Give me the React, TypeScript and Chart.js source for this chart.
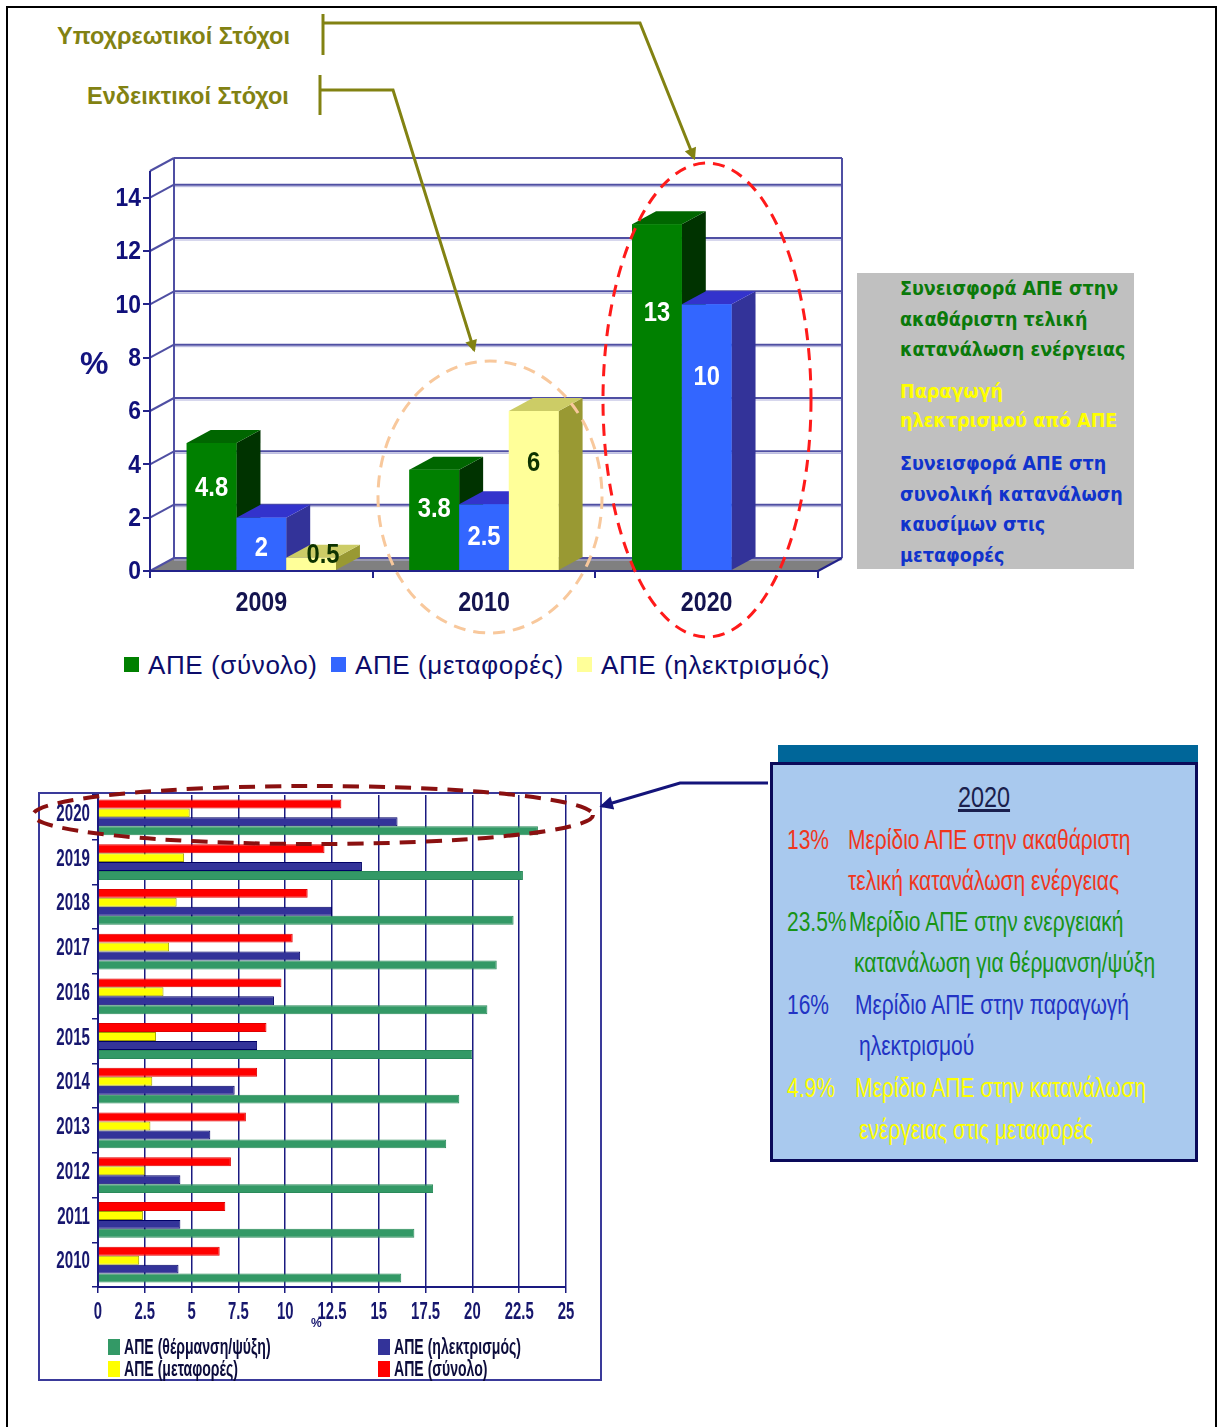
import React, { useEffect, useRef } from 'react';
import { Chart, registerables } from 'chart.js';
Chart.register(...registerables);

// ---------------- data: top (3D) chart ----------------
const topYears = ['2009', '2010', '2020'];
const topSeriesNames = ['ΑΠΕ (σύνολο)', 'ΑΠΕ (μεταφορές)', 'ΑΠΕ (ηλεκτρισμός)'];
const topTotal = [4.8, 3.8, 13];
const topTransport = [2, 2.5, 10];
const topElectricity = [0.5, 6, null];

// ---------------- data: bottom (horizontal) chart ----------------
const bottomYears = ['2020', '2019', '2018', '2017', '2016', '2015', '2014', '2013', '2012', '2011', '2010'];
const bottomSeriesNames = ['ΑΠΕ (σύνολο)', 'ΑΠΕ (μεταφορές)', 'ΑΠΕ (ηλεκτρισμός)', 'ΑΠΕ (θέρμανση/ψύξη)'];
const bottomTotal = [13.0, 12.1, 11.2, 10.4, 9.8, 9.0, 8.5, 7.9, 7.1, 6.8, 6.5];
const bottomTransport = [4.9, 4.6, 4.2, 3.8, 3.5, 3.1, 2.9, 2.8, 2.5, 2.4, 2.2];
const bottomElectricity = [16.0, 14.1, 12.5, 10.8, 9.4, 8.5, 7.3, 6.0, 4.4, 4.4, 4.3];
const bottomHeating = [23.5, 22.7, 22.2, 21.3, 20.8, 20.0, 19.3, 18.6, 17.9, 16.9, 16.2];

// ---------------- styles ----------------
const SANS = '"Liberation Sans", Arial, sans-serif';
const VERD = '"DejaVu Sans Condensed", "DejaVu Sans", Verdana, sans-serif';

const DX = 24;
const DY = -13;
const TOP_FRONT = ['#008000', '#3366ff', '#ffff99'];
const TOP_SIDE = ['#003300', '#333399', '#999933'];
const TOP_CAP = ['#006600', '#3333cc', '#cccc66'];
const TOP_TEXT = ['#ffffff', '#ffffff', '#0d3300'];
const WALL = '#4f4fa3';

const BOT_FILL = ['#ff0000', '#ffff00', '#333399', '#339966'];
const BOT_BORDER = ['#e00000', '#a0a000', '#000066', '#2a8a5a'];
const BOT_NAVY = '#1a1a80';

function poly(ctx: CanvasRenderingContext2D, pts: number[][], fill: string) {
  ctx.beginPath();
  ctx.moveTo(pts[0][0], pts[0][1]);
  for (let i = 1; i < pts.length; i++) ctx.lineTo(pts[i][0], pts[i][1]);
  ctx.closePath();
  ctx.fillStyle = fill;
  ctx.fill();
}
function seg(ctx: CanvasRenderingContext2D, x1: number, y1: number, x2: number, y2: number) {
  ctx.beginPath();
  ctx.moveTo(x1, y1);
  ctx.lineTo(x2, y2);
  ctx.stroke();
}
function sText(ctx: CanvasRenderingContext2D, text: string, x: number, y: number, sx: number, align: CanvasTextAlign) {
  ctx.save();
  ctx.translate(x, y);
  ctx.scale(sx, 1);
  ctx.textAlign = align;
  ctx.fillText(text, 0, 0);
  ctx.restore();
}

const threeDPlugin = {
  id: 'threeD',
  beforeDatasetsDraw(chart: any) {
    const { ctx, chartArea: a } = chart;
    const y = chart.scales.y;
    ctx.save();
    poly(ctx, [[a.left, a.bottom], [a.right, a.bottom], [a.right + DX, a.bottom + DY], [a.left + DX, a.bottom + DY]], '#808080');
    y.ticks.forEach((t: any) => {
      const py = y.getPixelForValue(t.value);
      ctx.strokeStyle = '#b0b0dc';
      ctx.lineWidth = 1;
      seg(ctx, a.left + DX, py + DY + 2, a.right + DX, py + DY + 2);
      ctx.strokeStyle = WALL;
      ctx.lineWidth = 2;
      seg(ctx, a.left + DX, py + DY, a.right + DX, py + DY);
      seg(ctx, a.left, py, a.left + DX, py + DY);
    });
    ctx.strokeStyle = WALL;
    ctx.lineWidth = 2;
    seg(ctx, a.left + DX, a.top + DY, a.right + DX, a.top + DY);
    seg(ctx, a.left + DX, a.top + DY, a.left + DX, a.bottom + DY);
    seg(ctx, a.right + DX, a.top + DY, a.right + DX, a.bottom + DY);
    seg(ctx, a.left, a.top, a.left + DX, a.top + DY);
    ctx.strokeStyle = '#23238a';
    seg(ctx, a.left, a.top, a.left, a.bottom);
    seg(ctx, a.left, a.bottom, a.right, a.bottom);
    seg(ctx, a.right, a.bottom, a.right + DX, a.bottom + DY);
    ctx.restore();
  },
  afterDatasetsDraw(chart: any) {
    const ctx = chart.ctx;
    const items: any[] = [];
    chart.data.datasets.forEach((ds: any, di: number) => {
      const meta = chart.getDatasetMeta(di);
      meta.data.forEach((el: any, i: number) => {
        const v = ds.data[i];
        if (v === null || v === undefined) return;
        const p = el.getProps(['x', 'y', 'base', 'width'], true);
        items.push({ ...p, di, v });
      });
    });
    items.sort((a, b) => a.x - b.x);
    ctx.save();
    for (const it of items) {
      const l = it.x - it.width / 2;
      const r = it.x + it.width / 2;
      const t = it.y;
      const b = it.base;
      poly(ctx, [[r, t], [r + DX, t + DY], [r + DX, b + DY], [r, b]], TOP_SIDE[it.di]);
      poly(ctx, [[l, t], [r, t], [r + DX, t + DY], [l + DX, t + DY]], TOP_CAP[it.di]);
      ctx.fillStyle = TOP_FRONT[it.di];
      ctx.fillRect(l, t, r - l, b - t);
    }
    ctx.font = `bold 28px ${SANS}`;
    ctx.textBaseline = 'middle';
    for (const it of items) {
      const h = it.base - it.y;
      const small = h < 25;
      const off = small ? -2 : Math.min(h / 2 + 4, 20 + 0.2 * h);
      ctx.fillStyle = TOP_TEXT[it.di];
      sText(ctx, String(it.v), it.x + (small ? DX / 2 : 0), it.y + off, 0.85, 'center');
    }
    ctx.restore();
  },
  afterDraw(chart: any) {
    const { ctx } = chart;
    const x = chart.scales.x;
    const y = chart.scales.y;
    ctx.save();
    ctx.textBaseline = 'middle';
    ctx.font = `bold 26px ${SANS}`;
    ctx.fillStyle = '#10107a';
    y.ticks.forEach((t: any, i: number) => {
      sText(ctx, String(t.label), y.right - 9, y.getPixelForTick(i) + 1, 0.88, 'right');
    });
    ctx.font = `bold 27px ${SANS}`;
    ctx.fillStyle = '#141450';
    x.ticks.forEach((t: any, i: number) => {
      sText(ctx, String(t.label), x.getPixelForTick(i), x.top + 33, 0.86, 'center');
    });
    ctx.restore();
  },
};

const squeezeLabels = {
  id: 'squeezeLabels',
  afterDraw(chart: any) {
    const { ctx } = chart;
    const x = chart.scales.x;
    const y = chart.scales.y;
    ctx.save();
    ctx.fillStyle = '#17176e';
    ctx.font = `bold 24px ${SANS}`;
    ctx.textBaseline = 'middle';
    y.ticks.forEach((t: any, i: number) => {
      sText(ctx, String(t.label), y.right - 8, y.getPixelForTick(i) - 3, 0.63, 'right');
    });
    x.ticks.forEach((t: any, i: number) => {
      sText(ctx, String(t.label), x.getPixelForTick(i), x.top + 25, 0.62, 'center');
    });
    ctx.restore();
  },
};

function TopChart() {
  const ref = useRef<HTMLCanvasElement>(null);
  useEffect(() => {
    const chart = new Chart(ref.current as HTMLCanvasElement, {
      type: 'bar',
      data: {
        labels: topYears,
        datasets: [
          { label: topSeriesNames[0], data: topTotal, backgroundColor: TOP_FRONT[0] },
          { label: topSeriesNames[1], data: topTransport, backgroundColor: TOP_FRONT[1] },
          { label: topSeriesNames[2], data: topElectricity, backgroundColor: TOP_FRONT[2] },
        ],
      },
      options: {
        animation: false,
        responsive: false,
        maintainAspectRatio: false,
        layout: { padding: { left: 0, right: 62, top: 31, bottom: 0 } },
        plugins: { legend: { display: false }, tooltip: { enabled: false } },
        datasets: { bar: { categoryPercentage: 0.67, barPercentage: 1 } },
        scales: {
          x: {
            afterFit: (s: any) => { s.height = 59; },
            grid: { color: 'rgba(0,0,0,0)', tickColor: '#23238a', tickLength: 7, lineWidth: 2, offset: true },
            border: { display: false },
            ticks: { display: false },
          },
          y: {
            min: 0,
            max: 15,
            afterFit: (s: any) => { s.width = 90; },
            afterBuildTicks: (s: any) => { s.ticks = s.ticks.filter((t: any) => t.value % 2 === 0); },
            grid: { color: 'rgba(0,0,0,0)', tickColor: '#23238a', tickLength: 7, lineWidth: 2 },
            border: { display: false },
            ticks: { display: false, stepSize: 2, includeBounds: false },
          },
        },
      } as any,
      plugins: [threeDPlugin],
    });
    return () => chart.destroy();
  }, []);
  return <canvas ref={ref} width={820} height={490} style={{ position: 'absolute', left: 60, top: 140, width: 820, height: 490 }} />;
}

function BottomChart() {
  const ref = useRef<HTMLCanvasElement>(null);
  useEffect(() => {
    const series = [bottomTotal, bottomTransport, bottomElectricity, bottomHeating];
    const chart = new Chart(ref.current as HTMLCanvasElement, {
      type: 'bar',
      data: {
        labels: bottomYears,
        datasets: series.map((d, i) => ({
          label: bottomSeriesNames[i],
          data: d,
          backgroundColor: BOT_FILL[i],
          borderColor: BOT_BORDER[i],
          borderWidth: 1,
        })),
      },
      options: {
        indexAxis: 'y',
        animation: false,
        responsive: false,
        maintainAspectRatio: false,
        layout: { padding: { left: 0, right: 34, top: 1, bottom: 0 } },
        plugins: { legend: { display: false }, tooltip: { enabled: false } },
        datasets: { bar: { categoryPercentage: 0.8, barPercentage: 1 } },
        scales: {
          x: {
            min: 0,
            max: 25,
            afterFit: (s: any) => { s.height = 92; },
            grid: { color: BOT_NAVY, lineWidth: 1.5, tickColor: BOT_NAVY, tickLength: 6 },
            border: { color: BOT_NAVY, width: 2 },
            ticks: { display: false, stepSize: 2.5 },
          },
          y: {
            afterFit: (s: any) => { s.width = 58; },
            grid: { color: 'rgba(0,0,0,0)', tickColor: BOT_NAVY, tickLength: 6, offset: true, lineWidth: 1.5 },
            border: { color: BOT_NAVY, width: 2 },
            ticks: { display: false },
          },
        },
      } as any,
      plugins: [squeezeLabels],
    });
    return () => chart.destroy();
  }, []);
  return <canvas ref={ref} width={560} height={585} style={{ position: 'absolute', left: 40, top: 794, width: 560, height: 585 }} />;
}

function Txt(props: any) {
  const { x, y, size, color, weight = 'normal', family = SANS, sx = 1, align = 'left', underline = false, ls = 0, children } = props;
  const tx = align === 'center' ? 'translateX(-50%) ' : align === 'right' ? 'translateX(-100%) ' : '';
  const origin = align === 'center' ? 'center center' : align === 'right' ? 'right center' : 'left center';
  return (
    <div
      style={{
        position: 'absolute',
        left: x,
        top: y,
        fontSize: size,
        color,
        fontWeight: weight,
        fontFamily: family,
        whiteSpace: 'nowrap',
        lineHeight: 1,
        letterSpacing: ls,
        transform: `${tx}translateY(-50%) scaleX(${sx})`,
        transformOrigin: origin,
        textDecoration: underline ? 'underline' : 'none',
      }}
    >
      {children}
    </div>
  );
}

function Box({ x, y, w, h, bg, border }: any) {
  return <div style={{ position: 'absolute', left: x, top: y, width: w, height: h, background: bg, border: border || 'none', boxSizing: 'border-box' }} />;
}

export default function App() {
  const topLegendX = [124, 331, 577];
  const botLegend = [
    { i: 3, x: 108, y: 1347 },
    { i: 2, x: 378, y: 1347 },
    { i: 1, x: 108, y: 1369 },
    { i: 0, x: 378, y: 1369 },
  ];
  const olive = '#828212';
  const boxSx = 0.75;
  const boxSize = 28;
  return (
    <div style={{ position: 'absolute', left: 0, top: 0, width: 1218, height: 1427, background: '#fff', overflow: 'hidden', fontFamily: SANS }}>
      {/* annotation labels */}
      <Txt x={57} y={37} size={23.5} weight="bold" color={olive}>Υποχρεωτικοί Στόχοι</Txt>
      <Txt x={87} y={97} size={23.5} weight="bold" color={olive}>Ενδεικτικοί Στόχοι</Txt>

      {/* top chart */}
      <TopChart />
      <Txt x={80} y={363} size={32} weight="bold" color="#141480">%</Txt>

      {/* top legend */}
      {topSeriesNames.map((n, i) => (
        <React.Fragment key={n}>
          <Box x={topLegendX[i]} y={657} w={15} h={15} bg={TOP_FRONT[i]} />
          <Txt x={topLegendX[i] + 24} y={665} size={26} ls={0.6} color="#0c0c6a">{n}</Txt>
        </React.Fragment>
      ))}

      {/* grey explanatory box */}
      <Box x={857} y={273} w={277} h={296} bg="#c0c0c0" />
      <Txt x={900} y={289} size={19.5} weight="bold" family={VERD} color="#0a7a0a">Συνεισφορά ΑΠΕ στην</Txt>
      <Txt x={900} y={320} size={19.5} weight="bold" family={VERD} color="#0a7a0a">ακαθάριστη τελική</Txt>
      <Txt x={900} y={350} size={19.5} weight="bold" family={VERD} color="#0a7a0a">κατανάλωση ενέργειας</Txt>
      <Txt x={900} y={392} size={19.5} weight="bold" family={VERD} color="#ffff00">Παραγωγή</Txt>
      <Txt x={900} y={421} size={19.5} weight="bold" family={VERD} color="#ffff00">ηλεκτρισμού από ΑΠΕ</Txt>
      <Txt x={900} y={464} size={19.5} weight="bold" family={VERD} color="#1133cc">Συνεισφορά ΑΠΕ στη</Txt>
      <Txt x={900} y={495} size={19.5} weight="bold" family={VERD} color="#1133cc">συνολική κατανάλωση</Txt>
      <Txt x={900} y={525} size={19.5} weight="bold" family={VERD} color="#1133cc">καυσίμων στις</Txt>
      <Txt x={900} y={556} size={19.5} weight="bold" family={VERD} color="#1133cc">μεταφορές</Txt>

      {/* bottom chart */}
      <Box x={38} y={792} w={564} h={589} bg="transparent" border="2px solid #3a3a9a" />
      <BottomChart />
      <Txt x={311} y={1323} size={12} weight="bold" color="#17176e">%</Txt>
      {botLegend.map((it) => (
        <React.Fragment key={it.i}>
          <Box x={it.x} y={it.y - 8} w={12} h={16} bg={BOT_FILL[it.i]} />
          <Txt x={it.x + 16} y={it.y} size={22} weight="bold" sx={0.64} color="#0c0c3c">{bottomSeriesNames[it.i]}</Txt>
        </React.Fragment>
      ))}

      {/* 2020 targets box */}
      <Box x={778} y={745} w={420} h={17} bg="#006699" />
      <Box x={770} y={762} w={428} h={400} bg="#a9c9ee" border="3px solid #0a0a5a" />
      <Txt x={984} y={797} size={30} sx={0.78} color="#1a1f4d" align="center" underline>2020</Txt>
      <Txt x={787} y={840} size={boxSize} sx={boxSx} color="#f0361c">13%</Txt>
      <Txt x={848} y={840} size={boxSize} sx={boxSx} color="#f0361c">Μερίδιο ΑΠΕ στην ακαθάριστη</Txt>
      <Txt x={848} y={881} size={boxSize} sx={boxSx} color="#f0361c">τελική κατανάλωση ενέργειας</Txt>
      <Txt x={787} y={922} size={boxSize} sx={boxSx} color="#179417">23.5%</Txt>
      <Txt x={849} y={922} size={boxSize} sx={boxSx} color="#179417">Μερίδιο ΑΠΕ στην ενεργειακή</Txt>
      <Txt x={854} y={963} size={boxSize} sx={boxSx} color="#179417">κατανάλωση για θέρμανση/ψύξη</Txt>
      <Txt x={787} y={1005} size={boxSize} sx={boxSx} color="#2233c4">16%</Txt>
      <Txt x={855} y={1005} size={boxSize} sx={boxSx} color="#2233c4">Μερίδιο ΑΠΕ στην παραγωγή</Txt>
      <Txt x={859} y={1046} size={boxSize} sx={boxSx} color="#2233c4">ηλεκτρισμού</Txt>
      <Txt x={787} y={1088} size={boxSize} sx={boxSx} color="#ffff00">4.9%</Txt>
      <Txt x={855} y={1088} size={boxSize} sx={boxSx} color="#ffff00">Μερίδιο ΑΠΕ στην κατανάλωση</Txt>
      <Txt x={859} y={1130} size={boxSize} sx={boxSx} color="#ffff00">ενέργειας στις μεταφορές</Txt>

      {/* overlay: frame, arrows, ellipses */}
      <svg width={1218} height={1427} style={{ position: 'absolute', left: 0, top: 0, pointerEvents: 'none' }}>
        <defs>
          <marker id="ah-olive" viewBox="0 0 10 10" refX="8" refY="5" markerWidth="4.5" markerHeight="4" orient="auto">
            <path d="M0,0 L10,5 L0,10 z" fill={olive} />
          </marker>
          <marker id="ah-navy" viewBox="0 0 10 10" refX="8" refY="5" markerWidth="5" markerHeight="4.5" orient="auto">
            <path d="M0,0 L10,5 L0,10 z" fill="#14147a" />
          </marker>
        </defs>
        <rect x={7} y={7} width={1209} height={1440} fill="none" stroke="#000" strokeWidth={2} />
        <line x1={323} y1={14} x2={323} y2={55} stroke={olive} strokeWidth={3} />
        <polyline points="323,23 640,23 694,158" fill="none" stroke={olive} strokeWidth={3} markerEnd="url(#ah-olive)" />
        <line x1={320} y1={75} x2={320} y2={115} stroke={olive} strokeWidth={3} />
        <polyline points="320,90 393,90 474,350" fill="none" stroke={olive} strokeWidth={3} markerEnd="url(#ah-olive)" />
        <ellipse cx={490} cy={497} rx={112} ry={136} fill="none" stroke="#f8c89c" strokeWidth={3} strokeDasharray="12 8" />
        <ellipse cx={707} cy={400} rx={104} ry={237} fill="none" stroke="#ff1a1a" strokeWidth={3} strokeDasharray="12 8" />
        <ellipse cx={313} cy={815} rx={280} ry={29} fill="none" stroke="#8a1010" strokeWidth={4} strokeDasharray="16 10" />
        <polyline points="768,783 680,783 602,806" fill="none" stroke="#14147a" strokeWidth={3} markerEnd="url(#ah-navy)" />
      </svg>
    </div>
  );
}
